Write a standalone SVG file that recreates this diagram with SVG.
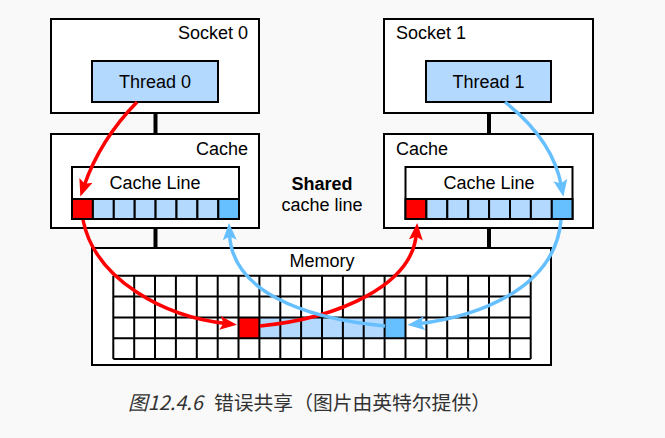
<svg xmlns="http://www.w3.org/2000/svg" width="665" height="438" viewBox="0 0 665 438">
<defs>
<style>
.box{fill:#fff;stroke:#000;stroke-width:2}
.lb{fill:#b3d9ff;stroke:#000;stroke-width:2}
.db{fill:#66bfff;stroke:#000;stroke-width:2}
.rd{fill:#ff0000;stroke:#000;stroke-width:2}
.bus{stroke:#000;stroke-width:4}
.grid{fill:none;stroke:#000;stroke-width:2}
.t{font-family:"Liberation Sans",Arial,sans-serif;font-size:18px;fill:#000}
.red{fill:none;stroke:#ff0000;stroke-width:3.5}
.blue{fill:none;stroke:#66bfff;stroke-width:3.5}
.cap{font-family:"Noto Sans CJK SC","Noto Sans",sans-serif;font-size:19.8px;fill:#333}
</style>
<marker id="ahr" markerUnits="userSpaceOnUse" markerWidth="18" markerHeight="15" viewBox="0 0 18 15" refX="6" refY="7.5" orient="auto">
<path d="M0,0.5 L17,7.5 L0,14.5 L3.5,7.5 z" fill="#ff0000"/>
</marker>
<marker id="ahb" markerUnits="userSpaceOnUse" markerWidth="18" markerHeight="15" viewBox="0 0 18 15" refX="6" refY="7.5" orient="auto">
<path d="M0,0.5 L17,7.5 L0,14.5 L3.5,7.5 z" fill="#66bfff"/>
</marker>
</defs>
<rect x="0" y="0" width="665" height="438" fill="#f9f9f9"/>

<g id="buses">
<line class="bus" x1="155.5" y1="113" x2="155.5" y2="134"/>
<line class="bus" x1="489" y1="113" x2="489" y2="134"/>
<line class="bus" x1="155.5" y1="228" x2="155.5" y2="248"/>
<line class="bus" x1="489" y1="228" x2="489" y2="248"/>
</g>

<g id="socket0">
<rect class="box" x="51" y="19" width="208" height="94"/>
<text class="t" x="248" y="39" text-anchor="end">Socket 0</text>
</g>
<g id="thread0">
<rect class="lb" x="92" y="61" width="126" height="41"/>
<text class="t" x="155" y="88" text-anchor="middle">Thread 0</text>
</g>
<g id="socket1">
<rect class="box" x="384" y="19" width="209" height="94"/>
<text class="t" x="396" y="39">Socket 1</text>
</g>
<g id="thread1">
<rect class="lb" x="426" y="61" width="125" height="41"/>
<text class="t" x="488.5" y="88" text-anchor="middle">Thread 1</text>
</g>

<g id="cache0">
<rect class="box" x="51" y="134" width="208" height="94"/>
<text class="t" x="248" y="155" text-anchor="end">Cache</text>
<rect class="box" x="72" y="167" width="167" height="52"/>
<text class="t" x="155" y="189" text-anchor="middle">Cache Line</text>
<rect class="rd" x="72" y="199" width="20.9" height="20"/>
<rect class="lb" x="92.9" y="199" width="20.9" height="20"/>
<rect class="lb" x="113.8" y="199" width="20.9" height="20"/>
<rect class="lb" x="134.7" y="199" width="20.9" height="20"/>
<rect class="lb" x="155.6" y="199" width="20.9" height="20"/>
<rect class="lb" x="176.5" y="199" width="20.9" height="20"/>
<rect class="lb" x="197.4" y="199" width="20.9" height="20"/>
<rect class="db" x="218.3" y="199" width="20.7" height="20"/>
</g>

<g id="cache1">
<rect class="box" x="384" y="134" width="209" height="94"/>
<text class="t" x="396" y="155">Cache</text>
<rect class="box" x="405.5" y="167" width="167" height="52"/>
<text class="t" x="489" y="189" text-anchor="middle">Cache Line</text>
<rect class="rd" x="405.5" y="199" width="20.9" height="20"/>
<rect class="lb" x="426.4" y="199" width="20.9" height="20"/>
<rect class="lb" x="447.3" y="199" width="20.9" height="20"/>
<rect class="lb" x="468.2" y="199" width="20.9" height="20"/>
<rect class="lb" x="489.1" y="199" width="20.9" height="20"/>
<rect class="lb" x="510" y="199" width="20.9" height="20"/>
<rect class="lb" x="530.9" y="199" width="20.9" height="20"/>
<rect class="db" x="551.8" y="199" width="20.7" height="20"/>
</g>

<g id="shared-label">
<text class="t" x="322" y="190" text-anchor="middle" font-weight="bold">Shared</text>
<text class="t" x="322" y="211" text-anchor="middle">cache line</text>
</g>

<g id="memory">
<rect class="box" x="92" y="248" width="459" height="117"/>
<text class="t" x="322" y="267" text-anchor="middle">Memory</text>
<rect x="239" y="317.5" width="20.9" height="20.8" fill="#ff0000"/>
<rect x="259.9" y="317.5" width="125.2" height="20.8" fill="#b3d9ff"/>
<rect x="385.1" y="317.5" width="20.9" height="20.8" fill="#66bfff"/>
<path class="grid" d="M113.3,275.7H530.7M113.3,296.5H530.7M113.3,317.4H530.7M113.3,338.2H530.7M113.3,359H530.7
M113.3,275.7V359M134.2,275.7V359M155.0,275.7V359M175.9,275.7V359M196.8,275.7V359M217.7,275.7V359M238.5,275.7V359M259.4,275.7V359M280.3,275.7V359M301.1,275.7V359M322.0,275.7V359M342.9,275.7V359M363.7,275.7V359M384.6,275.7V359M405.5,275.7V359M426.4,275.7V359M447.2,275.7V359M468.1,275.7V359M489.0,275.7V359M509.8,275.7V359M530.7,275.7V359"/>
</g>

<g id="connectors">
<path class="red" d="M137,102 Q 100,140 84,186" marker-end="url(#ahr)"/>
<path class="red" d="M83,220 C 95,280 165,317 226,323.5" marker-end="url(#ahr)"/>
<path class="red" d="M260,326 C 340,318 412,285 416.3,234" marker-end="url(#ahr)"/>
<path class="blue" d="M505,102 Q 553,140 561.4,186" marker-end="url(#ahb)"/>
<path class="blue" d="M561,220 C 555,290 475,317 418.5,323.8" marker-end="url(#ahb)"/>
<path class="blue" d="M385,326 C 300,318 232,290 229.5,234" marker-end="url(#ahb)"/>
</g>

<g id="caption">
<text class="cap" x="128" y="410"><tspan font-style="italic">图12.4.6</tspan><tspan x="214">错误共享（图片由英特尔提供）</tspan></text>
</g>
</svg>
